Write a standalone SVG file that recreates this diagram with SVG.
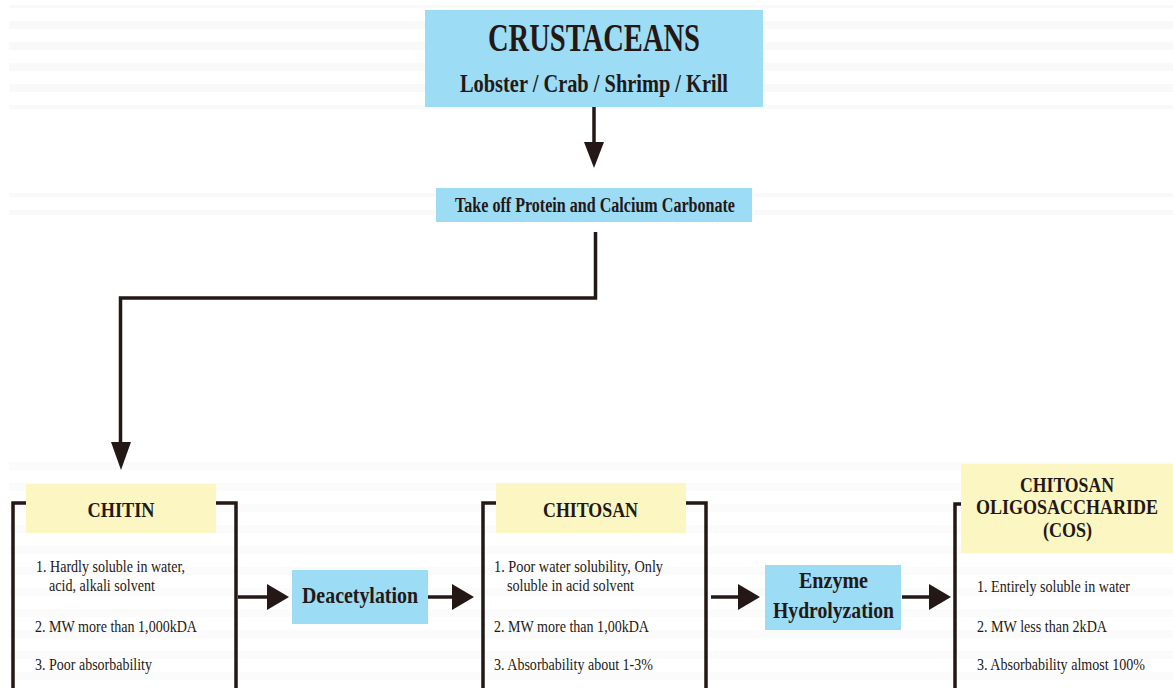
<svg xmlns="http://www.w3.org/2000/svg" width="1173" height="688" viewBox="0 0 1173 688">
<defs>
<style>
.blue{fill:#9ddcf5}
.yellow{fill:#fbf6c2}
.ln{fill:none;stroke:#231815;stroke-width:3.5}
.head{fill:#231815}
.t{font-family:"Liberation Serif","Times New Roman",serif;fill:#231815}
.b{font-weight:bold}
.c{text-anchor:middle}
.lst{font-size:17px}
</style>
<pattern id="stripes" x="0" y="0" width="1173" height="21" patternUnits="userSpaceOnUse">
<rect x="0" y="0" width="1173" height="8" fill="#f9f9f9"/>
</pattern>
</defs>
<rect x="0" y="0" width="1173" height="688" fill="#ffffff"/>
<rect x="9" y="5" width="1164" height="104" fill="url(#stripes)"/>
<rect x="9" y="193" width="1164" height="22" fill="url(#stripes)"/>
<rect x="9" y="450" width="1164" height="238" fill="url(#stripes)" opacity="0.6"/>

<g id="connectors">
<line class="ln" x1="594" y1="107" x2="594" y2="144"/>
<polygon class="head" points="584,142 604,142 594,168"/>
<polyline class="ln" points="595.5,232 595.5,298 120.5,298 120.5,444"/>
<polygon class="head" points="111,442 131,442 121,470"/>
<line class="ln" x1="238" y1="597" x2="270" y2="597"/>
<polygon class="head" points="267,584 267,610 289,597"/>
<line class="ln" x1="428" y1="597" x2="455" y2="597"/>
<polygon class="head" points="452,584 452,610 474,597"/>
<line class="ln" x1="711" y1="597" x2="741" y2="597"/>
<polygon class="head" points="738,584 738,610 760,597"/>
<line class="ln" x1="902" y1="597" x2="932" y2="597"/>
<polygon class="head" points="929,584 929,610 951,597"/>
</g>

<g id="crustaceans">
<rect class="blue" x="425" y="10" width="338" height="97"/>
<text class="t b c" x="594" y="51" font-size="40" textLength="212" lengthAdjust="spacingAndGlyphs">CRUSTACEANS</text>
<text class="t b c" x="594" y="92" font-size="26" textLength="268" lengthAdjust="spacingAndGlyphs">Lobster / Crab / Shrimp / Krill</text>
</g>

<g id="takeoff">
<rect class="blue" x="436" y="188" width="316" height="34"/>
<text class="t b c" x="595" y="212" font-size="20" textLength="280" lengthAdjust="spacingAndGlyphs">Take off Protein and Calcium Carbonate</text>
</g>

<g id="chitin">
<polyline class="ln" points="26,503 13,503 13,690"/>
<polyline class="ln" points="216,503 236,503 236,690"/>
<rect class="yellow" x="26" y="484" width="190" height="49"/>
<text class="t b c" x="121" y="517" font-size="22" textLength="67" lengthAdjust="spacingAndGlyphs">CHITIN</text>
<text class="t lst" x="36" y="572" textLength="149" lengthAdjust="spacingAndGlyphs">1. Hardly soluble in water,</text>
<text class="t lst" x="49" y="591" textLength="106" lengthAdjust="spacingAndGlyphs">acid, alkali solvent</text>
<text class="t lst" x="35" y="632" textLength="162" lengthAdjust="spacingAndGlyphs">2. MW more than 1,000kDA</text>
<text class="t lst" x="35" y="670" textLength="117" lengthAdjust="spacingAndGlyphs">3. Poor absorbability</text>
</g>

<g id="deacetylation">
<rect class="blue" x="292" y="570" width="136" height="54"/>
<text class="t b c" x="360" y="603" font-size="24" textLength="116" lengthAdjust="spacingAndGlyphs">Deacetylation</text>
</g>

<g id="chitosan">
<polyline class="ln" points="496,503 483,503 483,690"/>
<polyline class="ln" points="686,503 706,503 706,690"/>
<rect class="yellow" x="496" y="483" width="190" height="50"/>
<text class="t b c" x="590.5" y="517" font-size="22" textLength="95" lengthAdjust="spacingAndGlyphs">CHITOSAN</text>
<text class="t lst" x="494" y="572" textLength="169" lengthAdjust="spacingAndGlyphs">1. Poor water solubility,  Only</text>
<text class="t lst" x="507" y="591" textLength="127" lengthAdjust="spacingAndGlyphs">soluble in acid solvent</text>
<text class="t lst" x="494" y="632" textLength="155" lengthAdjust="spacingAndGlyphs">2. MW more than 1,00kDA</text>
<text class="t lst" x="494" y="670" textLength="159" lengthAdjust="spacingAndGlyphs">3. Absorbability about 1-3%</text>
</g>

<g id="enzyme">
<rect class="blue" x="765" y="565" width="136" height="65"/>
<text class="t b c" x="833.5" y="588" font-size="24" textLength="69" lengthAdjust="spacingAndGlyphs">Enzyme</text>
<text class="t b c" x="833.5" y="618" font-size="24" textLength="121" lengthAdjust="spacingAndGlyphs">Hydrolyzation</text>
</g>

<g id="cos">
<polyline class="ln" points="961,504 955,504 955,690"/>
<line class="ln" x1="1170" y1="504" x2="1175" y2="504"/>
<rect class="yellow" x="961" y="464" width="212" height="89"/>
<text class="t b c" x="1067" y="492" font-size="21" textLength="94" lengthAdjust="spacingAndGlyphs">CHITOSAN</text>
<text class="t b c" x="1067" y="514" font-size="21" textLength="182" lengthAdjust="spacingAndGlyphs">OLIGOSACCHARIDE</text>
<text class="t b c" x="1067.5" y="537" font-size="21" textLength="49" lengthAdjust="spacingAndGlyphs">(COS)</text>
<text class="t lst" x="977" y="592" textLength="153" lengthAdjust="spacingAndGlyphs">1. Entirely soluble in water</text>
<text class="t lst" x="977" y="632" textLength="130" lengthAdjust="spacingAndGlyphs">2. MW less than 2kDA</text>
<text class="t lst" x="977" y="670" textLength="168" lengthAdjust="spacingAndGlyphs">3. Absorbability almost 100%</text>
</g>
</svg>
